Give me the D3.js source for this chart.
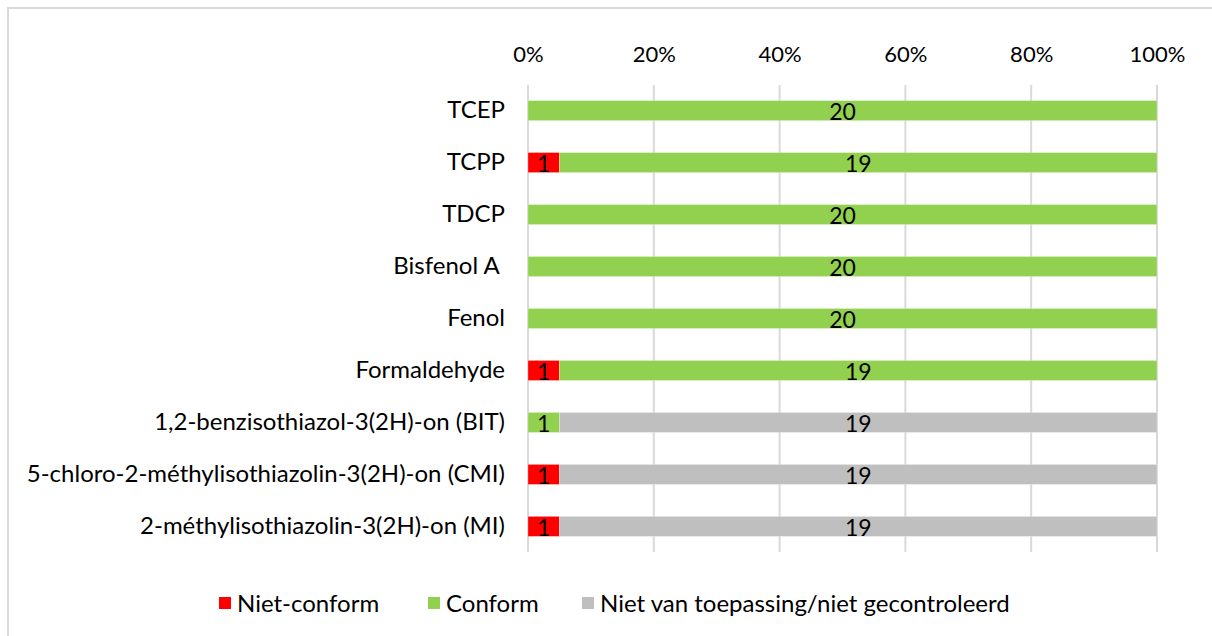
<!DOCTYPE html>
<html>
<head>
<meta charset="utf-8">
<script src="https://cdn.jsdelivr.net/npm/d3@7"></script>
<style>
  body { margin: 0; background: #fff; }
  svg text { font-family: Lato, "Open Sans", sans-serif; white-space: pre; }
</style>
</head>
<body>
<svg id="chart"></svg>
<script>
// categories (top to bottom)
const categories = ['TCEP', 'TCPP', 'TDCP', 'Bisfenol A ', 'Fenol', 'Formaldehyde',
  '1,2-benzisothiazol-3(2H)-on (BIT)', '5-chloro-2-méthylisothiazolin-3(2H)-on (CMI)',
  '2-méthylisothiazolin-3(2H)-on (MI)']

// counts per series
const nietConform = [0, 1, 0, 0, 0, 1, 0, 1, 1]
const conform = [20, 19, 20, 20, 20, 19, 1, 0, 0]
const nietVanToepassing = [0, 0, 0, 0, 0, 0, 19, 19, 19]

const seriesNames = ['Niet-conform', 'Conform', 'Niet van toepassing/niet gecontroleerd']
const seriesColors = ['#FF0000', '#92D050', '#BFBFBF']
const tickValues = [0, 0.2, 0.4, 0.6, 0.8, 1]

const W = 1212, H = 636
const margin = {top: 85, right: 55, bottom: 84, left: 528}
const width = W - margin.left - margin.right
const height = H - margin.top - margin.bottom
const fs = 24

const svg = d3.select('#chart').attr('width', W).attr('height', H)

// outer frame
svg.append('path')
  .attr('d', 'M8,' + H + 'V8H' + W)
  .attr('fill', 'none')
  .attr('stroke', '#D9D9D9')
  .attr('stroke-width', 2)

const rows = categories.map((c, i) => {
  const vals = [nietConform[i], conform[i], nietVanToepassing[i]]
  const total = d3.sum(vals)
  let acc = 0
  return {name: c, segs: vals.map((v, k) => {
    const s = {k: k, v: v, x0: acc / total, x1: (acc + v) / total}
    acc += v
    return s
  })}
})

const g = svg.append('g').attr('transform', 'translate(' + margin.left + ',' + margin.top + ')')

const x = d3.scaleLinear().domain([0, 1]).range([0, width])
const y = d3.scaleBand().domain(categories).range([0, height]).paddingInner(0.615).paddingOuter(0.3)

// gridlines
g.append('g')
  .selectAll('line')
  .data(tickValues)
  .join('line')
  .attr('x1', d => x(d)).attr('x2', d => x(d))
  .attr('y1', 0).attr('y2', height)
  .attr('stroke', '#D9D9D9')
  .attr('stroke-width', 2)

// top axis labels
const xAxis = g.append('g')
  .call(d3.axisTop(x).tickValues(tickValues).tickFormat(d3.format('.0%')).tickSize(0).tickPadding(23))
xAxis.select('.domain').remove()
xAxis.attr('font-size', 22).attr('font-family', 'Lato, sans-serif')
xAxis.selectAll('text').attr('fill', '#000')

// category labels
const yAxis = g.append('g')
  .call(d3.axisLeft(y).tickSize(0).tickPadding(23))
yAxis.select('.domain').remove()
yAxis.attr('font-size', fs).attr('font-family', 'Lato, sans-serif')
yAxis.selectAll('text').attr('fill', '#000')

// bars
const rowG = g.selectAll('.row')
  .data(rows)
  .join('g')
  .attr('transform', d => 'translate(0,' + y(d.name) + ')')

rowG.selectAll('rect')
  .data(d => d.segs.filter(s => s.v > 0))
  .join('rect')
  .attr('x', s => x(s.x0))
  .attr('width', s => x(s.x1) - x(s.x0))
  .attr('y', 0)
  .attr('height', y.bandwidth())
  .attr('fill', s => seriesColors[s.k])
  .attr('stroke', '#fff')
  .attr('stroke-opacity', 0.5)
  .attr('stroke-width', 0.5)

rowG.selectAll('text.val')
  .data(d => d.segs.filter(s => s.v > 0))
  .join('text')
  .attr('class', 'val')
  .attr('x', s => x((s.x0 + s.x1) / 2))
  .attr('y', y.bandwidth() / 2)
  .attr('dy', '0.4em')
  .attr('text-anchor', 'middle')
  .attr('font-size', 23)
  .text(s => s.v)

// legend
const legendX = [219, 428, 582]
const legend = svg.append('g').attr('transform', 'translate(0,603)')
const li = legend.selectAll('g')
  .data(seriesNames)
  .join('g')
  .attr('transform', (d, i) => 'translate(' + legendX[i] + ',0)')
li.append('rect')
  .attr('x', 0).attr('y', -6).attr('width', 12).attr('height', 12)
  .attr('fill', (d, i) => seriesColors[i])
li.append('text')
  .attr('x', 18).attr('dy', '0.36em')
  .attr('font-size', fs)
  .text(d => d)
</script>
</body>
</html>
